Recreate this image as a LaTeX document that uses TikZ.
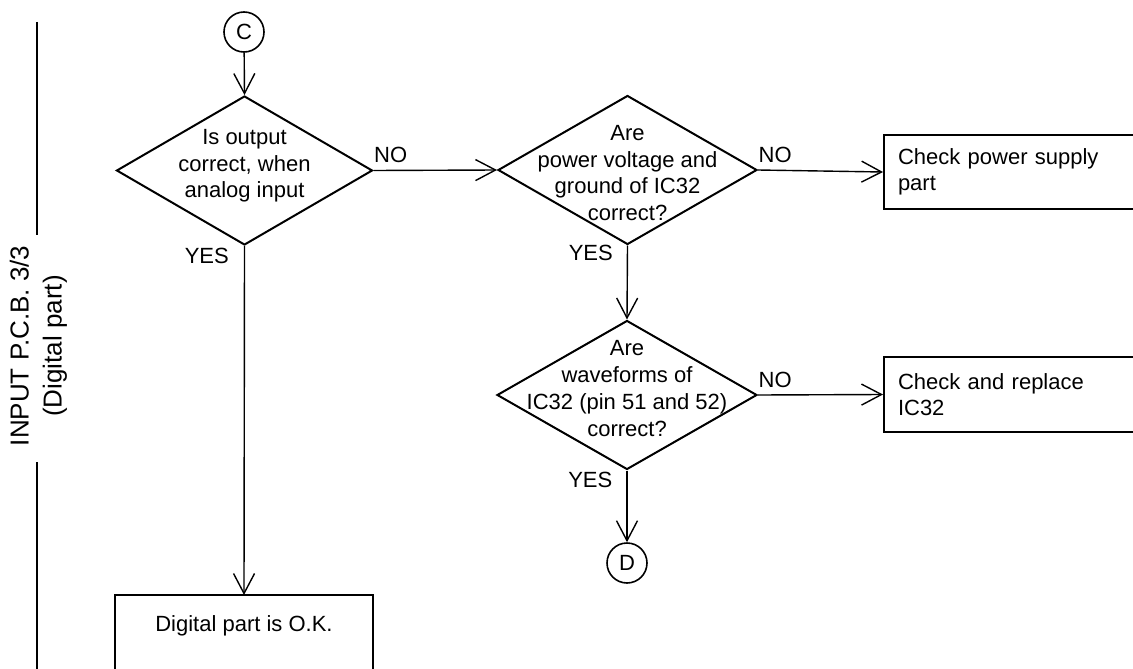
\documentclass[tikz,border=0pt]{standalone}
\usepackage{fontspec}
\setmainfont{Liberation Sans}
\usetikzlibrary{shapes.geometric,arrows.meta}
\begin{document}
\begin{tikzpicture}[x=1pt,y=-1pt,
  shapeline/.style={draw, line width=2pt},
  dec/.style={diamond, shapeline, minimum height=149pt, inner sep=0pt},
  dtext/.style={align=center, font=\fontsize{22}{26.7}\selectfont, inner sep=0pt},
  conn/.style={line width=1.4pt, -{Straight Barb[length=20pt,width=21pt,line width=1.4pt]}},
  lab/.style={font=\fontsize{22}{26}\selectfont, inner sep=0pt},
  conncircle/.style={circle, draw, line width=1.6pt, minimum size=40pt, inner sep=0pt, font=\fontsize{22}{26}\selectfont},
  actbox/.style={rectangle, shapeline, minimum width=300pt, text width=272pt, inner xsep=14pt, inner ysep=0pt, align=left, anchor=west, font=\fontsize{22}{26.5}\selectfont},
  sideline/.style={line width=2.8pt}
]
\clip (0,0) rectangle (1133,669);
% side label
\node[rotate=90, align=center, font=\fontsize{26}{33}\selectfont, inner sep=0pt] (side) at (38.5,346) {INPUT P.C.B. 3/3\\(Digital part)};
\coordinate (s1) at (37,22);
\coordinate (s2) at (37,235);
\coordinate (s3) at (37,462);
\coordinate (s4) at (37,690);
\draw[sideline] (s1) -- (s2);
\draw[sideline] (s3) -- (s4);
% nodes
\node[conncircle] (c) at (244,32) {C};
\node[dec, minimum width=256pt] (d1) at (244.5,170.5) {};
\node[dtext] (t1) at (244.5,166) {Is output\\correct, when\\analog input};
\node[dec, minimum width=259pt] (d2) at (627.5,170) {};
\node[dtext] (t2) at (627.5,173) {Are\\power voltage and\\ground of IC32\\correct?};
\node[dec, minimum width=260pt] (d3) at (627,395) {};
\node[dtext] (t3) at (627,388.5) {Are\\waveforms of\\IC32 (pin 51 and 52)\\correct?};
\node[actbox, minimum height=74pt] (b1) at (883,172) {Check power supply\\part};
\node[actbox, minimum height=75pt] (b2) at (883,394.5) {Check and replace\\IC32};
\node[conncircle] (dd) at (627,563) {D};
\node[lab, minimum width=258pt, minimum height=62pt, anchor=north] (ok) at (244,595) {Digital part is O.K.};
\draw[line width=2pt] ([yshift=-40pt]ok.south west) -- (ok.north west) -- (ok.north east) -- ([yshift=-40pt]ok.south east);
% connectors
\draw[conn] (c) -- (d1.north);
\draw[conn] (d1.east) node[lab, anchor=base west, yshift=8pt] (no1) {NO} -- (d2.west);
\draw[conn] (d1.south) node[lab, anchor=base east, xshift=-15pt, yshift=-17pt] (yes1) {YES} -- (ok.north);
\draw[conn] (d2.east) node[lab, anchor=base west, yshift=8pt] (no2) {NO} -- (b1.west);
\draw[conn] (d2.south) node[lab, anchor=base east, xshift=-14pt, yshift=-15pt] (yes2) {YES} -- (d3.north);
\draw[conn] (d3.east) node[lab, anchor=base west, yshift=8pt] (no3) {NO} -- (b2.west);
\draw[conn] (d3.south) node[lab, anchor=base east, xshift=-14pt, yshift=-17pt] (yes3) {YES} -- (dd.north);
\end{tikzpicture}
\end{document}
